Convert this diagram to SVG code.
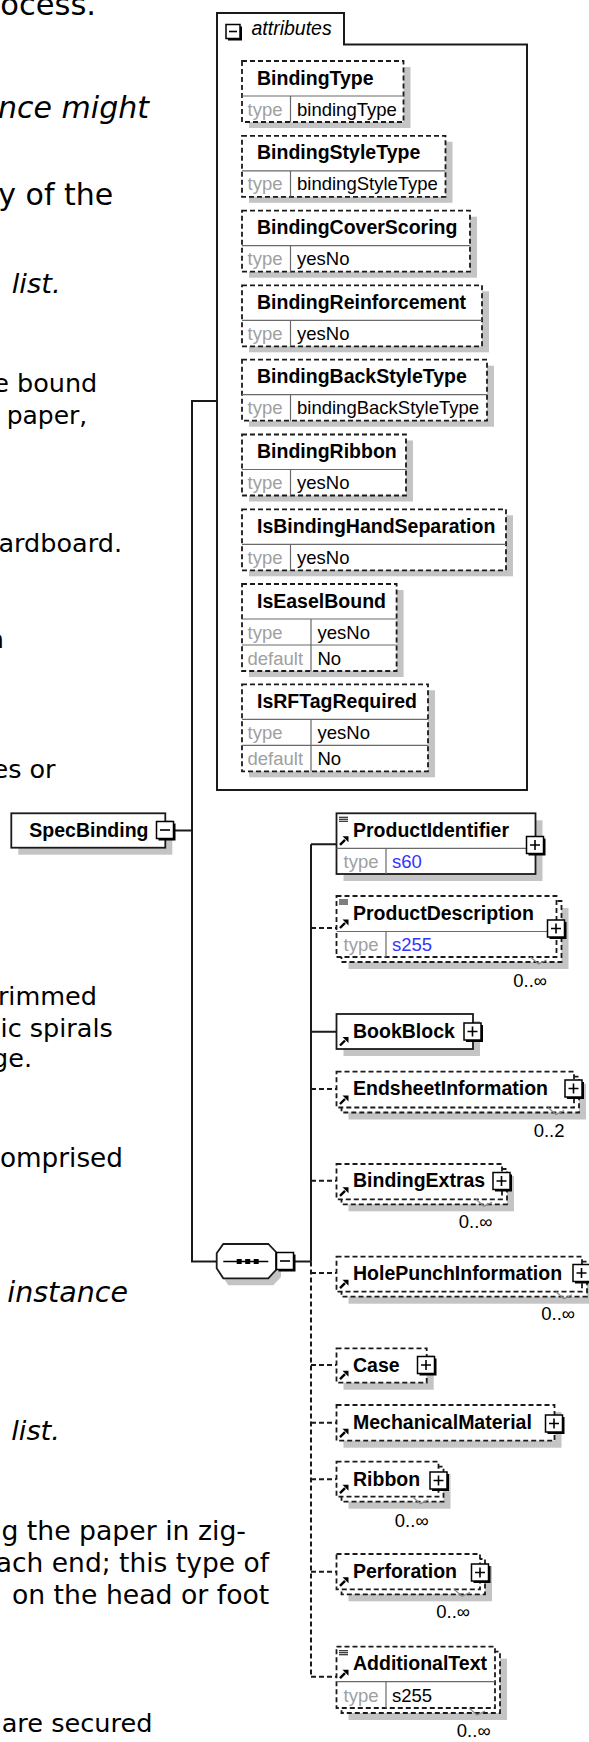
<svg xmlns="http://www.w3.org/2000/svg" width="589" height="1742" viewBox="0 0 589 1742">
<style>
.doc{font-family:"DejaVu Sans",Verdana,sans-serif;font-size:25.5px;fill:#000;text-anchor:end}
.it{font-style:italic}
.lbl{font-family:"Liberation Sans",Arial,sans-serif;font-weight:bold;font-size:19.5px;fill:#000}
.ital{font-family:"Liberation Sans",Arial,sans-serif;font-style:italic;font-size:19.5px;fill:#000}
.key{font-family:"Liberation Sans",Arial,sans-serif;font-size:18.5px;fill:#a0a0a0}
.val{font-family:"Liberation Sans",Arial,sans-serif;font-size:18.5px;fill:#000}
.blue{fill:#3333ff}
.card{font-family:"Liberation Sans",Arial,sans-serif;font-size:18.5px;fill:#000;text-anchor:end}
.dash{fill:#fff;stroke:#1a1a1a;stroke-width:1.8;stroke-dasharray:5 3}
.solid{fill:#fff;stroke:#1a1a1a;stroke-width:1.8}
.shadow{fill:#c4c4c4}
.sep{stroke:#6a6a6a;stroke-width:1.2}
.conn{fill:none;stroke:#1a1a1a;stroke-width:2}
.connd{fill:none;stroke:#1a1a1a;stroke-width:2;stroke-dasharray:5 3}
.frame{fill:none;stroke:#1a1a1a;stroke-width:2}
.btn{fill:#fff;stroke:#000;stroke-width:1.5}
.btnsh{fill:#000}
.pm{stroke:#000;stroke-width:1.6}
.ico{stroke:#000;stroke-width:1.1}
.arr{stroke:#000;stroke-width:2.4}
.notch{fill:none;stroke:#8a8a8a;stroke-width:1.2}
</style>
<defs>
<g id="plus"><rect class="btnsh" x="2" y="2" width="17" height="17"/><rect class="btn" x="0" y="0" width="17" height="17"/><path class="pm" d="M3.5 8.5H13.5M8.5 3.5V13.5"/></g>
<g id="minus"><rect class="btnsh" x="2" y="2" width="17" height="17"/><rect class="btn" x="0" y="0" width="17" height="17"/><path class="pm" d="M3.5 8.5H13.5"/></g>
<g id="arrow"><path class="arr" d="M0 0L5 -5"/><path d="M8.5 -8.5L2.5 -8.5L8.5 -2.5Z" fill="#000"/></g>
<g id="doc"><path class="ico" d="M0 0H9M0 2H9M0 4H9"/></g>
</defs>

<g id="text">
<text class="doc" x="96" y="15" style="font-size:30.5px">ocess.</text>
<text class="doc it" x="149" y="118" style="font-size:30px">nce might</text>
<text class="doc" x="113.3" y="204.5" style="font-size:30px">y of the</text>
<text class="doc it" x="60.7" y="293" style="font-size:27.4px">list.</text>
<text class="doc" x="97.3" y="391.5">e bound</text>
<text class="doc" x="87.3" y="423.5" style="font-size:25px">paper,</text>
<text class="doc" x="122" y="551.7">ardboard.</text>
<text class="doc" x="4" y="648.3">n</text>
<text class="doc" x="55.6" y="778.3">es or</text>
<text class="doc" x="97" y="1005">rimmed</text>
<text class="doc" x="112.8" y="1036.7">ic spirals</text>
<text class="doc" x="32" y="1067">ge.</text>
<text class="doc" x="123" y="1166.7" style="font-size:26.3px">omprised</text>
<text class="doc it" x="128" y="1301.7" style="font-size:28.5px">instance</text>
<text class="doc it" x="60" y="1440" style="font-size:27.3px">list.</text>
<text class="doc" x="246" y="1539.5" style="font-size:26.7px">g the paper in zig-</text>
<text class="doc" x="269" y="1571.5" style="font-size:26.5px">ach end; this type of</text>
<text class="doc" x="269.3" y="1603.5" style="font-size:26.7px">on the head or foot</text>
<text class="doc" x="152.5" y="1731.7" style="font-size:25.6px">are secured</text>
</g>

<g id="connectors">
<path class="conn" d="M175 830.5H192M217 401H192V1261.5H217M295 1261.5H311M311 844.3V1261.5"/>
<path class="connd" d="M311 1261.5V1676.7"/>
<path class="conn" d="M311 844.3H336.5M311 1031.7H336.5"/>
<path class="connd" d="M311 928H336.5M311 1089H336.5M311 1180.7H336.5M311 1273H336.5M311 1365H336.5M311 1422.7H336.5M311 1479.3H336.5M311 1571.7H336.5M311 1676.7H336.5"/>
</g>

<g id="SpecBinding">
<rect class="shadow" x="18.3" y="820.3" width="154" height="34.4"/>
<rect class="solid" x="11.3" y="813.3" width="154" height="34.4"/>
<text class="lbl" x="29.3" y="836.5">SpecBinding</text>
<use href="#minus" x="156.5" y="821.5"/>
</g>

<g id="attributes">
<path class="frame" d="M217 13H344V44.5H527V790H217Z"/>
<rect class="btnsh" x="228" y="26.5" width="14" height="14"/>
<rect class="btn" x="226" y="24.5" width="14" height="14"/>
<path class="pm" d="M229 31.5H237"/>
<text class="ital" x="251.5" y="35">attributes</text>
</g>

<g id="attr-BindingType">
<rect class="shadow" x="249" y="67" width="161.5" height="61"/>
<rect class="dash" x="242" y="61" width="161.5" height="61"/>
<path class="sep" d="M242 96H403.5M290.5 96V122"/>
<text class="lbl" x="257" y="84.5">BindingType</text>
<text class="key" x="247.5" y="115.5">type</text>
<text class="val" x="297" y="115.5">bindingType</text>
</g>
<g id="attr-BindingStyleType">
<rect class="shadow" x="249" y="141.8" width="203.5" height="61"/>
<rect class="dash" x="242" y="135.8" width="203.5" height="61"/>
<path class="sep" d="M242 170.8H445.5M290.5 170.8V196.8"/>
<text class="lbl" x="257" y="159.3">BindingStyleType</text>
<text class="key" x="247.5" y="190.3">type</text>
<text class="val" x="297" y="190.3">bindingStyleType</text>
</g>
<g id="attr-BindingCoverScoring">
<rect class="shadow" x="249" y="216.7" width="228" height="61"/>
<rect class="dash" x="242" y="210.7" width="228" height="61"/>
<path class="sep" d="M242 245.7H470M290.5 245.7V271.7"/>
<text class="lbl" x="257" y="234.2">BindingCoverScoring</text>
<text class="key" x="247.5" y="265.2">type</text>
<text class="val" x="297" y="265.2">yesNo</text>
</g>
<g id="attr-BindingReinforcement">
<rect class="shadow" x="249" y="291.3" width="240" height="61"/>
<rect class="dash" x="242" y="285.3" width="240" height="61"/>
<path class="sep" d="M242 320.3H482M290.5 320.3V346.3"/>
<text class="lbl" x="257" y="308.8">BindingReinforcement</text>
<text class="key" x="247.5" y="339.8">type</text>
<text class="val" x="297" y="339.8">yesNo</text>
</g>
<g id="attr-BindingBackStyleType">
<rect class="shadow" x="249" y="365.7" width="245" height="61"/>
<rect class="dash" x="242" y="359.7" width="245" height="61"/>
<path class="sep" d="M242 394.7H487M290.5 394.7V420.7"/>
<text class="lbl" x="257" y="383.2">BindingBackStyleType</text>
<text class="key" x="247.5" y="414.2">type</text>
<text class="val" x="297" y="414.2">bindingBackStyleType</text>
</g>
<g id="attr-BindingRibbon">
<rect class="shadow" x="249" y="440.5" width="164" height="61"/>
<rect class="dash" x="242" y="434.5" width="164" height="61"/>
<path class="sep" d="M242 469.5H406M290.5 469.5V495.5"/>
<text class="lbl" x="257" y="458">BindingRibbon</text>
<text class="key" x="247.5" y="489">type</text>
<text class="val" x="297" y="489">yesNo</text>
</g>
<g id="attr-IsBindingHandSeparation">
<rect class="shadow" x="249" y="515.3" width="264" height="61"/>
<rect class="dash" x="242" y="509.3" width="264" height="61"/>
<path class="sep" d="M242 544.3H506M290.5 544.3V570.3"/>
<text class="lbl" x="257" y="532.8">IsBindingHandSeparation</text>
<text class="key" x="247.5" y="563.8">type</text>
<text class="val" x="297" y="563.8">yesNo</text>
</g>
<g id="attr-IsEaselBound">
<rect class="shadow" x="249" y="590" width="154.6" height="87"/>
<rect class="dash" x="242" y="584" width="154.6" height="87"/>
<path class="sep" d="M242 619H396.6M242 645H396.6M311 619V671"/>
<text class="lbl" x="257" y="607.5">IsEaselBound</text>
<text class="key" x="247.5" y="639">type</text>
<text class="val" x="317.5" y="639">yesNo</text>
<text class="key" x="247.5" y="665">default</text>
<text class="val" x="317.5" y="665">No</text>
</g>
<g id="attr-IsRFTagRequired">
<rect class="shadow" x="249" y="690.3" width="186" height="87"/>
<rect class="dash" x="242" y="684.3" width="186" height="87"/>
<path class="sep" d="M242 719.3H428M242 745.3H428M311 719.3V771.3"/>
<text class="lbl" x="257" y="707.8">IsRFTagRequired</text>
<text class="key" x="247.5" y="739.3">type</text>
<text class="val" x="317.5" y="739.3">yesNo</text>
<text class="key" x="247.5" y="765.3">default</text>
<text class="val" x="317.5" y="765.3">No</text>
</g>

<g id="sequence">
<polygon class="shadow" points="221.7,1260.3 228.3,1251 273.3,1251 281,1259 281,1277 273.3,1285.3 228.3,1285.3 221.7,1275.3"/>
<polygon class="solid" points="216.7,1253.3 223.3,1244 268.3,1244 276,1252 276,1270 268.3,1278.3 223.3,1278.3 216.7,1268.3"/>
<path stroke="#000" stroke-width="1.5" d="M223.3 1261.5H268.3"/>
<rect x="236.7" y="1259" width="5" height="5" fill="#000"/>
<rect x="245.2" y="1259" width="5" height="5" fill="#000"/>
<rect x="253.7" y="1259" width="5" height="5" fill="#000"/>
<use href="#minus" x="276.5" y="1252.5"/>
</g>

<g id="ProductIdentifier">
<rect class="shadow" x="343.5" y="820.3" width="199" height="60.7"/>
<rect class="solid" x="336.5" y="813.3" width="199" height="60.7"/>
<path class="sep" d="M336.5 848.3H535.5M386 848.3V874"/>
<use href="#doc" x="339" y="817.3"/>
<use href="#arrow" x="340" y="844.8"/>
<text class="lbl" x="353" y="836.8">ProductIdentifier</text>
<text class="key" x="343.5" y="868.3">type</text>
<text class="val blue" x="392" y="868.3">s60</text>
<use href="#plus" x="526.5" y="836.5"/>
</g>

<g id="ProductDescription">
<rect class="shadow" x="348.5" y="908" width="220" height="61"/>
<rect class="dash" x="341.5" y="901" width="220" height="61"/>
<rect class="dash" x="336.5" y="896" width="220" height="61"/>
<path class="sep" d="M336.5 931.5H556.5M386 931.5V957"/>
<path class="notch" d="M530.5 957L538.5 964L546.5 960"/>
<use href="#doc" x="339" y="900"/>
<use href="#arrow" x="340" y="928"/>
<text class="lbl" x="353" y="919.5">ProductDescription</text>
<text class="key" x="343.5" y="951">type</text>
<text class="val blue" x="392" y="951">s255</text>
<use href="#plus" x="547.5" y="920"/>
<text class="card" x="547" y="986.7">0..∞</text>
</g>

<g id="BookBlock">
<rect class="shadow" x="343.5" y="1021" width="136.5" height="35"/>
<rect class="solid" x="336.5" y="1014" width="136.5" height="35"/>
<use href="#arrow" x="340" y="1045.5"/>
<text class="lbl" x="353" y="1037.5">BookBlock</text>
<use href="#plus" x="464" y="1023"/>
</g>

<g id="EndsheetInformation">
<rect class="shadow" x="348.5" y="1083.7" width="237.5" height="35.8"/>
<rect class="dash" x="341.5" y="1076.7" width="237.5" height="35.8"/>
<rect class="dash" x="336.5" y="1071.7" width="237.5" height="35.8"/>
<path class="notch" d="M548 1107.5L556 1114.5L564 1110.5"/>
<use href="#arrow" x="340" y="1104"/>
<text class="lbl" x="353" y="1095">EndsheetInformation</text>
<use href="#plus" x="565" y="1080"/>
<text class="card" x="564.5" y="1136.7">0..2</text>
</g>

<g id="BindingExtras">
<rect class="shadow" x="348.5" y="1176" width="165.5" height="35.3"/>
<rect class="dash" x="341.5" y="1169" width="165.5" height="35.3"/>
<rect class="dash" x="336.5" y="1164" width="165.5" height="35.3"/>
<path class="notch" d="M476 1199.3L484 1206.3L492 1202.3"/>
<use href="#arrow" x="340" y="1195.8"/>
<text class="lbl" x="353" y="1187">BindingExtras</text>
<use href="#plus" x="493" y="1172.5"/>
<text class="card" x="492.5" y="1228.3">0..∞</text>
</g>

<g id="HolePunchInformation">
<rect class="shadow" x="348.5" y="1268.7" width="245.5" height="35"/>
<rect class="dash" x="341.5" y="1261.7" width="245.5" height="35"/>
<rect class="dash" x="336.5" y="1256.7" width="245.5" height="35"/>
<path class="notch" d="M556 1291.7L564 1298.7L572 1294.7"/>
<use href="#arrow" x="340" y="1288.2"/>
<text class="lbl" x="353" y="1280">HolePunchInformation</text>
<use href="#plus" x="573" y="1264.5"/>
<text class="card" x="575" y="1320">0..∞</text>
</g>

<g id="Case">
<rect class="shadow" x="343.5" y="1355.3" width="90.2" height="34.4"/>
<rect class="dash" x="336.5" y="1348.3" width="90.2" height="34.4"/>
<use href="#arrow" x="340" y="1379.2"/>
<text class="lbl" x="353" y="1371.7">Case</text>
<use href="#plus" x="417.5" y="1356.5"/>
</g>

<g id="MechanicalMaterial">
<rect class="shadow" x="343.5" y="1412" width="218" height="35.7"/>
<rect class="dash" x="336.5" y="1405" width="218" height="35.7"/>
<use href="#arrow" x="340" y="1437.2"/>
<text class="lbl" x="353" y="1429.3">MechanicalMaterial</text>
<use href="#plus" x="545.5" y="1415"/>
</g>

<g id="Ribbon">
<rect class="shadow" x="348.5" y="1473.7" width="102" height="35"/>
<rect class="dash" x="341.5" y="1466.7" width="102" height="35"/>
<rect class="dash" x="336.5" y="1461.7" width="102" height="35"/>
<path class="notch" d="M412.5 1496.7L420.5 1503.7L428.5 1499.7"/>
<use href="#arrow" x="340" y="1493.2"/>
<text class="lbl" x="353" y="1486">Ribbon</text>
<use href="#plus" x="430" y="1472"/>
<text class="card" x="428.6" y="1526.7">0..∞</text>
</g>

<g id="Perforation">
<rect class="shadow" x="348.5" y="1566" width="143.5" height="35.3"/>
<rect class="dash" x="341.5" y="1559" width="143.5" height="35.3"/>
<rect class="dash" x="336.5" y="1554" width="143.5" height="35.3"/>
<path class="notch" d="M454 1589.3L462 1596.3L470 1592.3"/>
<use href="#arrow" x="340" y="1585.8"/>
<text class="lbl" x="353" y="1577.7">Perforation</text>
<use href="#plus" x="471.5" y="1564"/>
<text class="card" x="470" y="1618.3">0..∞</text>
</g>

<g id="AdditionalText">
<rect class="shadow" x="348.5" y="1658.7" width="158.5" height="61.3"/>
<rect class="dash" x="341.5" y="1651.7" width="158.5" height="61.3"/>
<rect class="dash" x="336.5" y="1646.7" width="158.5" height="61.3"/>
<path class="sep" d="M336.5 1681.7H495M386 1681.7V1708"/>
<path class="notch" d="M469 1708L477 1715L485 1711"/>
<use href="#doc" x="339" y="1650.7"/>
<use href="#arrow" x="340" y="1678.2"/>
<text class="lbl" x="353" y="1669.5">AdditionalText</text>
<text class="key" x="343.5" y="1701.7">type</text>
<text class="val" x="392" y="1701.7">s255</text>
<text class="card" x="490.6" y="1736.7">0..∞</text>
</g>
</svg>
